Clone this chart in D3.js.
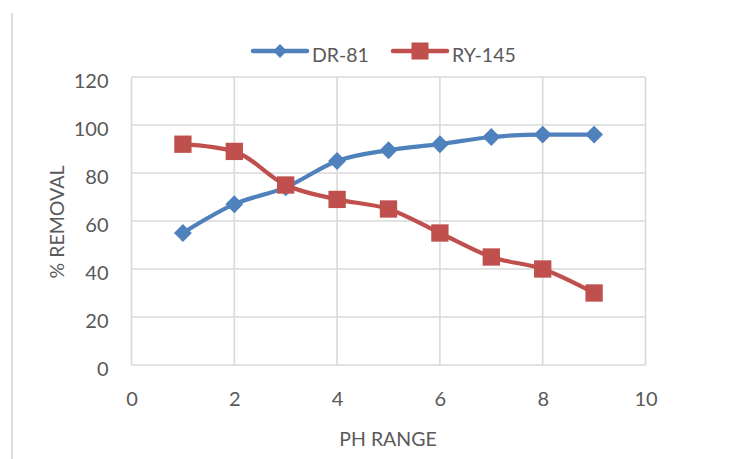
<!DOCTYPE html>
<html>
<head>
<meta charset="utf-8">
<script src="https://cdn.jsdelivr.net/npm/d3@7"></script>
<style>
  html, body { margin: 0; padding: 0; background: #fff; }
  svg { display: block; font-family: Lato, "Open Sans", sans-serif; }
</style>
</head>
<body>
<svg id="chart" width="741" height="459"></svg>
<script>
// pH values and removal percentages for the two dyes
const phValues = [1, 2, 3, 4, 5, 6, 7, 8, 9];
const dr81 = [55, 67, 74, 85, 89.5, 92, 95, 96, 96];
const ry145 = [92, 89, 75, 69, 65, 55, 45, 40, 30];
const xTicks = [0, 2, 4, 6, 8, 10];
const yTicks = [0, 20, 40, 60, 80, 100, 120];
const seriesNames = ["DR-81", "RY-145"];

const svg = d3.select("#chart");
const textColor = "#595959";
const gridColor = "#d9d9d9";
const colors = ["#4f81bd", "#c0504d"];
const fontFamily = "Lato, 'Open Sans', sans-serif";

// frame line on the left
svg.append("line").attr("x1", 12).attr("x2", 12).attr("y1", 13).attr("y2", 459)
  .attr("stroke", "#dedede").attr("stroke-width", 2);

const x = d3.scaleLinear().domain([0, 10]).range([131.5, 645.5]);
const y = d3.scaleLinear().domain([0, 120]).range([365, 77]);

// gridlines
const grid = svg.append("g");
grid.selectAll(".hg").data(yTicks).join("line")
  .attr("x1", x(0)).attr("x2", x(10))
  .attr("y1", d => y(d)).attr("y2", d => y(d))
  .attr("stroke", gridColor).attr("stroke-width", 1.6);
grid.selectAll(".vg").data(xTicks).join("line")
  .attr("x1", d => x(d)).attr("x2", d => x(d))
  .attr("y1", y(120)).attr("y2", y(0))
  .attr("stroke", gridColor).attr("stroke-width", 1.6);

// axes (labels only)
const yAxis = svg.append("g").attr("transform", `translate(${x(0)},4)`)
  .call(d3.axisLeft(y).tickValues(yTicks).tickSize(0).tickPadding(23));
const xAxis = svg.append("g").attr("transform", `translate(0,${y(0)})`)
  .call(d3.axisBottom(x).tickValues(xTicks).tickSize(0).tickPadding(27));
[yAxis, xAxis].forEach(a => {
  a.select(".domain").remove();
  a.selectAll("text").attr("fill", textColor).attr("font-size", 20)
    .attr("font-family", fontFamily);
});

// axis titles
svg.append("text").attr("x", 388).attr("y", 446).attr("text-anchor", "middle")
  .attr("fill", textColor).attr("font-size", 19.5).text("PH RANGE");
svg.append("text").attr("transform", "translate(64,222) rotate(-90)")
  .attr("text-anchor", "middle").attr("fill", textColor).attr("font-size", 19.5).text("% REMOVAL");

// series lines and markers
const series = [dr81, ry145];
const line = d3.line().x((d, i) => x(phValues[i])).y(d => y(d)).curve(d3.curveMonotoneX);
const diamond = d3.symbol().type(d3.symbolSquare).size(160);
const square = d3.symbol().type(d3.symbolSquare).size(300);

series.forEach((vals, s) => {
  svg.append("path").datum(vals).attr("d", line)
    .attr("fill", "none").attr("stroke", colors[s]).attr("stroke-width", 4.2)
    .attr("stroke-linejoin", "round").attr("stroke-linecap", "round");
});
svg.append("g").selectAll("path").data(dr81).join("path")
  .attr("transform", (d, i) => `translate(${x(phValues[i])},${y(d)}) rotate(45)`)
  .attr("d", diamond).attr("fill", colors[0]);
svg.append("g").selectAll("path").data(ry145).join("path")
  .attr("transform", (d, i) => `translate(${x(phValues[i])},${y(d)})`)
  .attr("d", square).attr("fill", colors[1]);

// legend
const legendDiamond = d3.symbol().type(d3.symbolSquare).size(95);
const legendSquare = d3.symbol().type(d3.symbolSquare).size(290);
const legend = svg.append("g");
const legendItems = [{ x0: 253, name: seriesNames[0] }, { x0: 393, name: seriesNames[1] }];
legendItems.forEach((it, i) => {
  legend.append("line").attr("x1", it.x0).attr("x2", it.x0 + 54).attr("y1", 51).attr("y2", 51)
    .attr("stroke", colors[i]).attr("stroke-width", 4.5).attr("stroke-linecap", "round");
  legend.append("path")
    .attr("transform", `translate(${it.x0 + 27},51)` + (i === 0 ? " rotate(45)" : ""))
    .attr("d", i === 0 ? legendDiamond : legendSquare).attr("fill", colors[i]);
  legend.append("text").attr("x", it.x0 + 59).attr("y", 62)
    .attr("fill", textColor).attr("font-size", 19.5).attr("font-family", fontFamily).text(it.name);
});
</script>
</body>
</html>
